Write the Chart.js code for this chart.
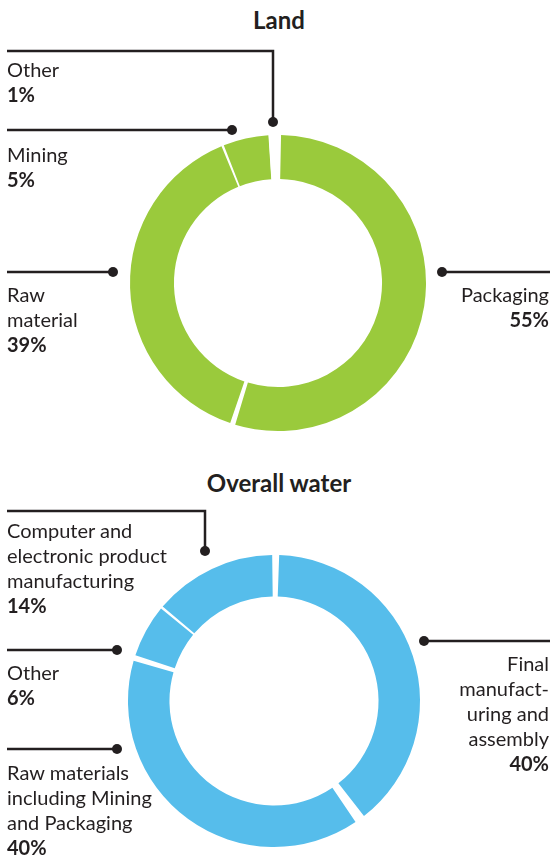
<!DOCTYPE html>
<html>
<head>
<meta charset="utf-8">
<script src="https://cdn.jsdelivr.net/npm/chart.js@4.4.1/dist/chart.umd.min.js"></script>
<style>
  html, body { margin: 0; padding: 0; background: #fff; }
  body { width: 552px; height: 858px; position: relative; overflow: hidden;
         font-family: Lato, "Open Sans", sans-serif; color: #231f20; }
  canvas { position: absolute; left: 0; }
  .title { position: absolute; left: 0; width: 558px; text-align: center; font-weight: bold; font-size: 24px; line-height: 28px; }
  .lbl { position: absolute; font-size: 20px; line-height: 25px; white-space: nowrap; }
  .lbl b { font-weight: bold; }
  .r { text-align: right; }
</style>
</head>
<body>
<div class="title" style="top:6px">Land</div>
<div class="title" style="top:469px">Overall water</div>
<canvas id="land" width="552" height="450" style="top:0"></canvas>
<canvas id="water" width="552" height="408" style="top:450px"></canvas>
<div id="labels"></div>
<script>
// ---- data ----
const landCategories = ["Packaging", "Raw material", "Mining", "Other"];
const landValues = [55, 39, 5, 1];
const waterCategories = ["Final manufacturing and assembly", "Raw materials including Mining and Packaging", "Other", "Computer and electronic product manufacturing"];
const waterValues = [40, 40, 6, 14];

// ---- label text (display line breaks) ----
const landLabelLines = [["Packaging"], ["Raw", "material"], ["Mining"], ["Other"]];
const waterLabelLines = [["Final", "manufact-", "uring and", "assembly"], ["Raw materials", "including Mining", "and Packaging"], ["Other"], ["Computer and", "electronic product", "manufacturing"]];

// ---- layout / style (not data) ----
const GREEN = "#9aca3c", BLUE = "#56bdeb", INK = "#231f20";
const landLayout = [
  {left: null, right: 3, top: 282, line: [[442, 272], [550, 272]]},
  {left: 7, top: 282, line: [[113, 272], [7, 272]]},
  {left: 7, top: 142, line: [[232, 130], [7, 130]]},
  {left: 7, top: 57, line: [[273, 122], [273, 51], [7, 51]]}
];
const waterLayout = [
  {left: null, right: 3, top: 651, line: [[424, 641], [550, 641]]},
  {left: 7, top: 760, line: [[117, 749], [7, 749]]},
  {left: 7, top: 660, line: [[117, 650], [7, 650]]},
  {left: 7, top: 518, line: [[205, 551], [205, 511], [7, 511]]}
];

function leaderPlugin(layout, yOff) {
  return {
    id: 'leaders',
    afterDraw(chart) {
      const ctx = chart.ctx;
      ctx.save();
      ctx.strokeStyle = INK; ctx.fillStyle = INK; ctx.lineWidth = 2.5;
      layout.forEach(l => {
        ctx.beginPath();
        l.line.forEach((p, i) => { const y = p[1] - yOff; i ? ctx.lineTo(p[0], y) : ctx.moveTo(p[0], y); });
        ctx.stroke();
        ctx.beginPath();
        ctx.arc(l.line[0][0], l.line[0][1] - yOff, 5, 0, Math.PI * 2);
        ctx.fill();
      });
      ctx.restore();
    }
  };
}

function makeDonut(id, cats, vals, colors, pad, radius, cutout, spacing, layout, yOff) {
  return new Chart(document.getElementById(id), {
    type: 'doughnut',
    data: { labels: cats, datasets: [{ data: vals, backgroundColor: colors, borderWidth: 0, spacing: spacing }] },
    options: {
      responsive: false, animation: false, events: [],
      radius: radius, cutout: cutout,
      layout: { padding: pad },
      plugins: { legend: { display: false }, tooltip: { enabled: false }, title: { display: false } }
    },
    plugins: [leaderPlugin(layout, yOff)]
  });
}

makeDonut('land', landCategories, landValues, [GREEN, GREEN, GREEN, '#ffffff'],
  {left: 130, right: 126, top: 135, bottom: 19}, 146.5, '70%', 3, landLayout, 0);
makeDonut('water', waterCategories, waterValues, [BLUE, BLUE, BLUE, BLUE],
  {left: 128, right: 132, top: 105, bottom: 11}, 142.5, '70.9%', 7, waterLayout, 450);

// ---- HTML labels ----
function addLabels(lines, vals, layout) {
  const host = document.getElementById('labels');
  lines.forEach((ls, i) => {
    const d = document.createElement('div');
    d.className = 'lbl' + (layout[i].left === null ? ' r' : '');
    if (layout[i].left === null) d.style.right = layout[i].right + 'px'; else d.style.left = layout[i].left + 'px';
    d.style.top = layout[i].top + 'px';
    d.innerHTML = ls.join('<br>') + '<br><b>' + vals[i] + '%</b>';
    host.appendChild(d);
  });
}
addLabels(landLabelLines, landValues, landLayout);
addLabels(waterLabelLines, waterValues, waterLayout);
</script>
</body>
</html>
